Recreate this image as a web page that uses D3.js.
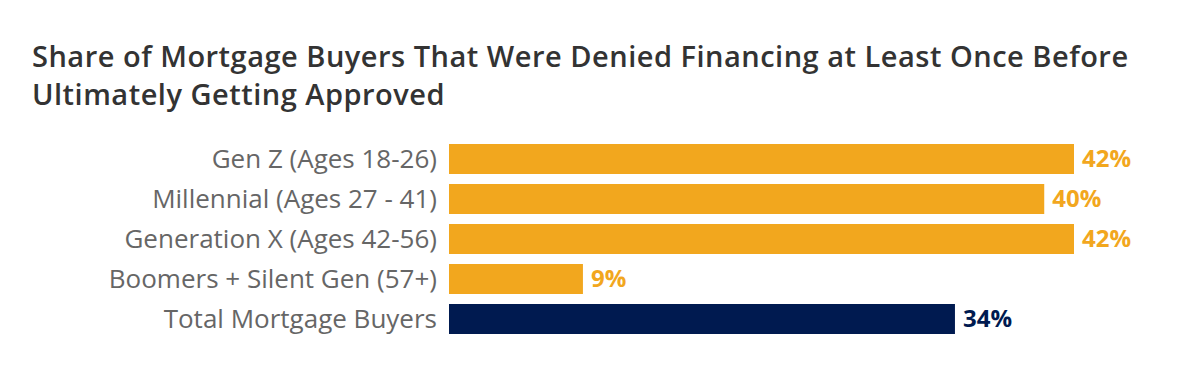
<!DOCTYPE html>
<html>
<head>
<meta charset="utf-8">
<script src="https://cdn.jsdelivr.net/npm/d3@7"></script>
<style>
  body { margin: 0; background: #fff; }
  svg { font-family: "Open Sans", sans-serif; }
</style>
</head>
<body>
<script>
var categories = [
  "Gen Z (Ages 18-26)",
  "Millennial (Ages 27 - 41)",
  "Generation X (Ages 42-56)",
  "Boomers + Silent Gen (57+)",
  "Total Mortgage Buyers",
];
var values = [42, 40, 42, 9, 34];
var barColors = ["#F2A71E", "#F2A71E", "#F2A71E", "#F2A71E", "#001A50"];
var titleLines = [
  "Share of Mortgage Buyers That Were Denied Financing at Least Once Before",
  "Ultimately Getting Approved",
];

var width = 1200,
  height = 380;

var svg = d3
  .select("body")
  .append("svg")
  .attr("width", width)
  .attr("height", height);

// title
svg
  .selectAll(".title")
  .data(titleLines)
  .enter()
  .append("text")
  .attr("class", "title")
  .attr("x", 32)
  .attr("y", (d, i) => 67 + i * 38)
  .attr("fill", "#333")
  .attr("font-size", 29)
  .attr("font-weight", 600)
  .attr("letter-spacing", 0.5)
  .text((d) => d);

var x = d3.scaleLinear().domain([0, 42]).range([449, 1074]);
var y = d3
  .scaleBand()
  .domain(categories)
  .range([139, 339])
  .paddingInner(0.25)
  .paddingOuter(0.125);

var rows = svg
  .selectAll(".row")
  .data(categories)
  .enter()
  .append("g")
  .attr("class", "row");

rows
  .append("rect")
  .attr("x", x(0))
  .attr("y", (d) => y(d))
  .attr("height", y.bandwidth())
  .attr("width", (d, i) => x(values[i]) - x(0))
  .attr("fill", (d, i) => barColors[i]);

rows
  .append("text")
  .attr("x", 437)
  .attr("y", (d) => y(d) + y.bandwidth() / 2)
  .attr("dy", "0.35em")
  .attr("text-anchor", "end")
  .attr("fill", "#666")
  .attr("font-size", 26)
  .text((d) => d);

rows
  .append("text")
  .attr("x", (d, i) => x(values[i]) + 8)
  .attr("y", (d) => y(d) + y.bandwidth() / 2)
  .attr("dy", "0.35em")
  .attr("fill", (d, i) => barColors[i])
  .attr("font-size", 24)
  .attr("font-weight", 700)
  .text((d, i) => values[i] + "%");
</script>
</body>
</html>
